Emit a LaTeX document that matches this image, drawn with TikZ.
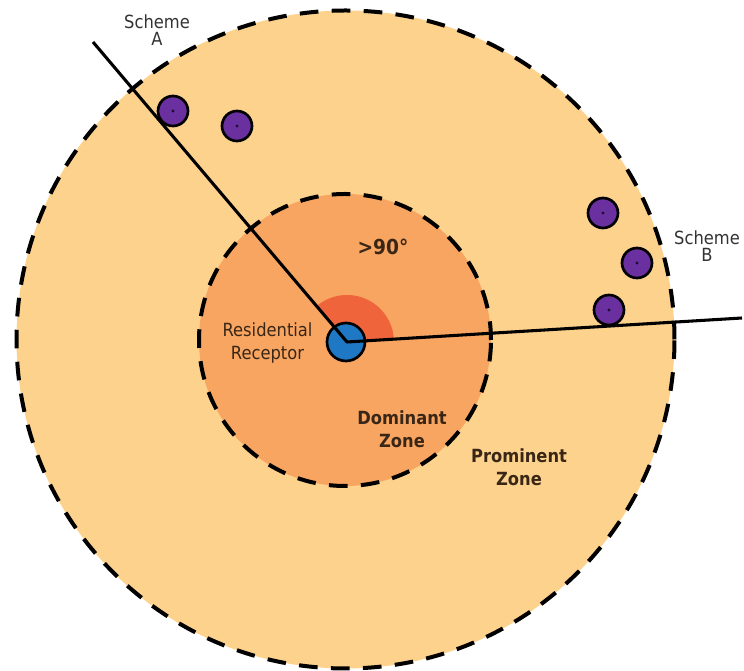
\documentclass[tikz,border=0pt]{standalone}
\usepackage{fontspec}
\setmainfont{DejaVu Sans}[FakeStretch=0.9]
\definecolor{outerfill}{HTML}{FDD28D}
\definecolor{innerfill}{HTML}{F7A561}
\definecolor{wedgecol}{HTML}{F0643C}
\definecolor{bluecol}{HTML}{1F78C4}
\definecolor{purplecol}{HTML}{6A30A0}
\definecolor{txtin}{HTML}{3A2616}
\definecolor{txtout}{HTML}{333333}
\begin{document}
\begin{tikzpicture}[x=0.75pt,y=0.75pt,
  zonecircle/.style={draw=black,line width=3pt,dash pattern=on 14pt off 10pt},
  schemeline/.style={draw=black,line width=2.3pt},
  turbine/.style={circle,draw=black,line width=2pt,fill=purplecol,minimum size=30*0.75pt,inner sep=0pt},
  lbl/.style={align=center,font=\fontsize{13.6}{17}\selectfont,text=txtin,inner sep=0pt},
  boldlbl/.style={lbl,font=\fontsize{13.6}{17.5}\selectfont\bfseries},
  schemelbl/.style={align=center,font=\fontsize{13.6}{13}\selectfont,text=txtout,inner sep=0pt}]
\useasboundingbox (0,0) rectangle (744,671);
% zones
\path[zonecircle,fill=outerfill] (345.5,331.5) circle[radius=329];
\path[zonecircle,fill=innerfill] (345,331) circle[radius=146];
% vertex and line ends
\coordinate (V) at (347,329);
\coordinate (Aend) at (93,629);
\coordinate (Bend) at (742,353);
% angle wedge
\fill[wedgecol] (V) -- ++(3.5:47) arc[start angle=3.5,end angle=130.3,radius=47] -- cycle;
% receptor
\node[circle,draw=black,line width=2pt,fill=bluecol,minimum size=38*0.75pt,inner sep=0pt] (rec) at (346,329) {};
% scheme lines
\draw[schemeline,line join=round] (Aend) -- (V) -- (Bend);
% turbines
\foreach \n/\p in {a1/{(173,560)},a2/{(237,545)},b1/{(603,458)},b2/{(637,408)},b3/{(609,361)}}{
  \node[turbine] (\n) at \p {};
  \fill[black!70!purplecol] (\n.center) circle[radius=1.6];
}
% labels
\node[schemelbl] (schA) at (157,641) {Scheme\\A};
\node[schemelbl] (schB) at (707,425) {Scheme\\B};
\node[lbl,font=\fontsize{15.5}{18}\selectfont\bfseries] (ang) at (383,424) {>90°};
\node[lbl] (resid) at (267.5,328) {Residential\\Receptor};
\node[boldlbl] (dom) at (402,242) {Dominant\\Zone};
\node[boldlbl] (prom) at (519,204) {Prominent\\Zone};
\end{tikzpicture}
\end{document}
